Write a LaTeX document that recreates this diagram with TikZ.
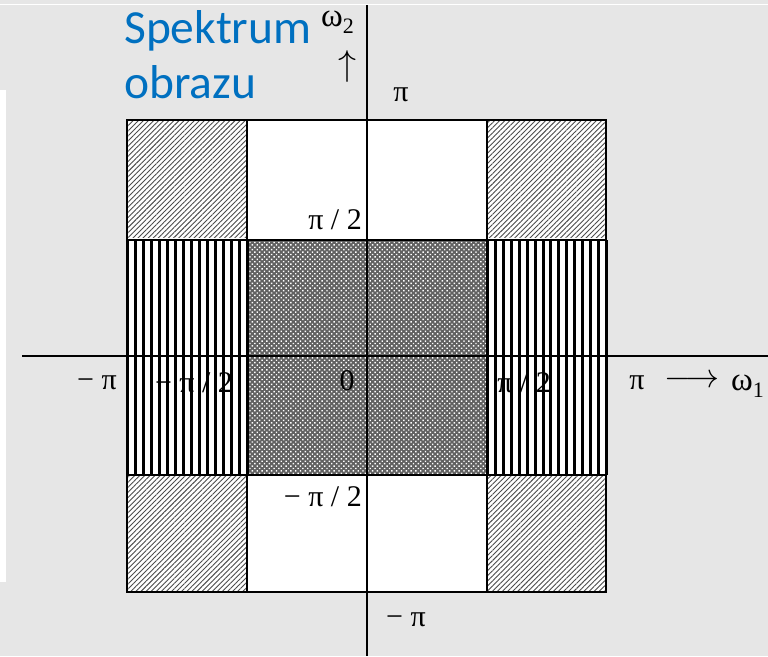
\documentclass[tikz,border=0pt]{standalone}
\usepackage{fontspec}
\setmainfont{Liberation Serif}
\newfontfamily\carl{Carlito}
\usetikzlibrary{patterns,patterns.meta}
\definecolor{bg}{HTML}{E6E6E6}
\definecolor{ttl}{HTML}{0070C0}
\tikzset{
  lbl/.style={inner sep=0pt, font=\fontsize{30}{30}\selectfont},
  ttlstyle/.style={inner sep=0pt, text=ttl, font=\carl\fontsize{47.5}{55}\selectfont},
  edge/.style={line width=2pt, line cap=rect},
  axis/.style={line width=1.6pt},
  vline/.style={line width=3pt},
  corner/.style={pattern={Lines[angle=45,distance=3.6pt,line width=0.9pt]}, pattern color=black!70},
}
\begin{document}
\begin{tikzpicture}[x=1pt,y=-1pt]
\useasboundingbox (0,0) rectangle (768,656);
\fill[bg] (0,0) rectangle (768,656);
\fill[white] (0,90) rectangle (6,582);
\draw[white, line width=1pt] (0,4) -- (768,4);
% regions
\fill[white] (127,120) rectangle (606,592);
\foreach \a/\b in {127/120, 487/120, 127/475, 487/475}{
  \fill[white] (\a,\b) rectangle ++(119.5,117.5);
  \fill[corner] (\a,\b) rectangle ++(119.5,117.5);
}
\fill[black!62] (247,240) rectangle (487,475);
\fill[pattern={Dots[distance=3.4pt,radius=1pt,angle=45]}, pattern color=white] (247,240) rectangle (487,475);
\foreach \i in {0,...,15}{
  \draw[vline] ({127.5+\i*8},240) -- ++(0,235);
  \draw[vline] ({487.5+round(\i*119/15)},240) -- ++(0,235);
}
% grid
\draw[edge] (127,120) rectangle (606,592);
\draw[edge] (247,120) -- (247,592);
\draw[edge] (487,120) -- (487,592);
\draw[edge] (127,240) -- (606,240);
\draw[edge] (127,475) -- (606,475);
% axes
\draw[axis] (367,5) -- (367,656);
\draw[axis] (22,356) -- (768,356);
% title
\node[ttlstyle, anchor=base west] (spek) at (124,43) {Spektrum};
\node[ttlstyle, anchor=base west] (obr) at (124,98) {obrazu};
% axis names
\node[inner sep=0pt, anchor=base west, font=\fontsize{33}{33}\selectfont] (w2) at (321,26) {ω\raisebox{-0.22em}{\fontsize{22}{22}\selectfont 2}};
\node[inner sep=0pt] (up) at (347,66) {\scalebox{3.6}{$\uparrow$}};
\node[inner sep=0pt, anchor=base west, font=\fontsize{33}{33}\selectfont] (w1) at (731,390) {ω\raisebox{-0.22em}{\fontsize{22}{22}\selectfont 1}};
\node[inner sep=0pt] (rarr) at (692,381) {\scalebox{3.4}{$\longrightarrow$}};
% labels
\node[lbl] (pitop) at (401,95) {π};
\node[lbl, anchor=east] (pi2top) at (362,220) {π / 2};
\node[lbl, anchor=east] (pi2bot) at (362,497) {− π / 2};
\node[lbl] (pibot) at (406,620) {− π};
\node[lbl] (pileft) at (97,383) {− π};
\node[lbl] (pi2left) at (194,383) {− π / 2};
\node[lbl] (zero) at (347,381) {0};
\node[lbl] (pi2right) at (524,383) {π / 2};
\node[lbl] (piright) at (637,383) {π};
\end{tikzpicture}
\end{document}
